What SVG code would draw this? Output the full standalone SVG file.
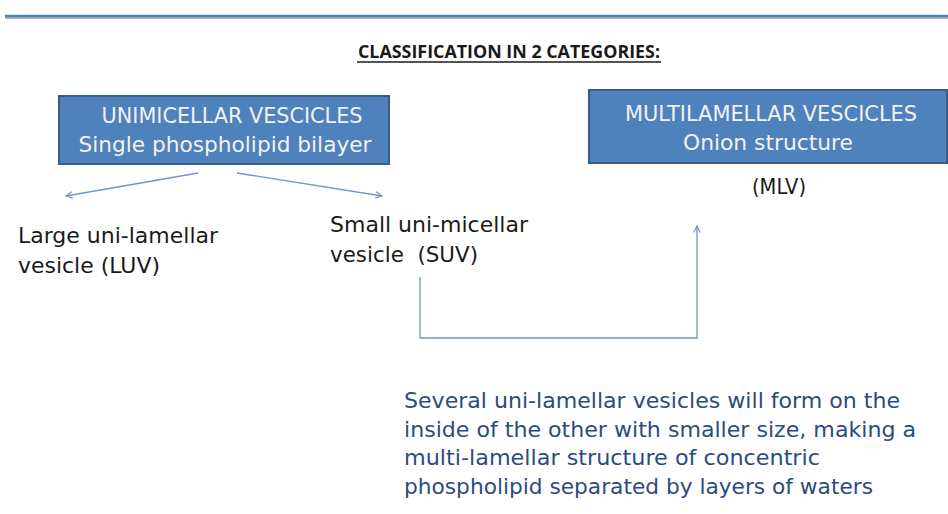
<svg xmlns="http://www.w3.org/2000/svg" width="948" height="514" viewBox="0 0 948 514">
<style>
.box{fill:#4f81bd;stroke:#385d8a;stroke-width:2}
.bt{font-family:"DejaVu Sans",sans-serif;font-size:21px;fill:#f2f2f2;text-anchor:middle}
.lbl{font-family:"DejaVu Sans",sans-serif;font-size:21px;fill:#1a1a1a}
.note{font-family:"DejaVu Sans",sans-serif;font-size:21px;fill:#2b4c7e}
.conn{fill:none;stroke:#6f96cc;stroke-width:1.3}
</style>
<defs>
<marker id="ah" viewBox="0 0 10 10" refX="9" refY="5" markerWidth="8" markerHeight="8" markerUnits="userSpaceOnUse" orient="auto">
<path d="M1,1 L9,5 L1,9" fill="none" stroke="#6f96cc" stroke-width="1.5"/>
</marker>
</defs>
<rect width="948" height="514" fill="#ffffff"/>
<line x1="5" y1="18" x2="948" y2="18" stroke="#b0b0b0" stroke-width="2"/>
<line x1="5" y1="16" x2="948" y2="16" stroke="#4f81bd" stroke-width="2.5"/>
<g id="title">
<text x="509" y="58" font-family="'Open Sans','Liberation Sans',sans-serif" font-weight="bold" font-size="17" fill="#1a1a1a" text-anchor="middle" textLength="302" lengthAdjust="spacingAndGlyphs">CLASSIFICATION IN 2 CATEGORIES:</text>
<line x1="357" y1="62" x2="661" y2="62" stroke="#1a1a1a" stroke-width="1.3"/>
</g>
<g id="unimicellar">
<rect class="box" x="59" y="96" width="330" height="68"/>
<text class="bt" x="232" y="123" textLength="261" lengthAdjust="spacingAndGlyphs">UNIMICELLAR VESCICLES</text>
<text class="bt" x="225" y="152" textLength="293" lengthAdjust="spacingAndGlyphs">Single phospholipid bilayer</text>
</g>
<g id="multilamellar">
<rect class="box" x="589" y="90" width="358" height="73"/>
<text class="bt" x="771" y="121" textLength="292" lengthAdjust="spacingAndGlyphs">MULTILAMELLAR VESCICLES</text>
<text class="bt" x="768" y="150" textLength="170" lengthAdjust="spacingAndGlyphs">Onion structure</text>
<text class="lbl" x="779" y="194" text-anchor="middle" font-size="19" textLength="54" lengthAdjust="spacingAndGlyphs">(MLV)</text>
</g>
<g id="luv">
<text class="lbl" x="18" y="243" textLength="200" lengthAdjust="spacingAndGlyphs">Large uni-lamellar</text>
<text class="lbl" x="18" y="273" textLength="142" lengthAdjust="spacingAndGlyphs">vesicle (LUV)</text>
</g>
<g id="suv">
<text class="lbl" x="330" y="232" textLength="198" lengthAdjust="spacingAndGlyphs">Small uni-micellar</text>
<text class="lbl" x="330" y="262" xml:space="preserve" textLength="148" lengthAdjust="spacingAndGlyphs">vesicle  (SUV)</text>
</g>
<g id="note">
<text class="note" x="404" y="408" textLength="496" lengthAdjust="spacingAndGlyphs">Several uni-lamellar vesicles will form on the</text>
<text class="note" x="404" y="437" textLength="512" lengthAdjust="spacingAndGlyphs">inside of the other with smaller size, making a</text>
<text class="note" x="404" y="465" textLength="416" lengthAdjust="spacingAndGlyphs">multi-lamellar structure of concentric</text>
<text class="note" x="404" y="494" textLength="469" lengthAdjust="spacingAndGlyphs">phospholipid separated by layers of waters</text>
</g>
<g id="connectors">
<line class="conn" x1="198" y1="173" x2="66" y2="196" marker-end="url(#ah)"/>
<line class="conn" x1="237" y1="173" x2="382" y2="196" marker-end="url(#ah)"/>
<polyline class="conn" points="420,277 420,338 697,338 697,226" marker-end="url(#ah)"/>
</g>
</svg>
